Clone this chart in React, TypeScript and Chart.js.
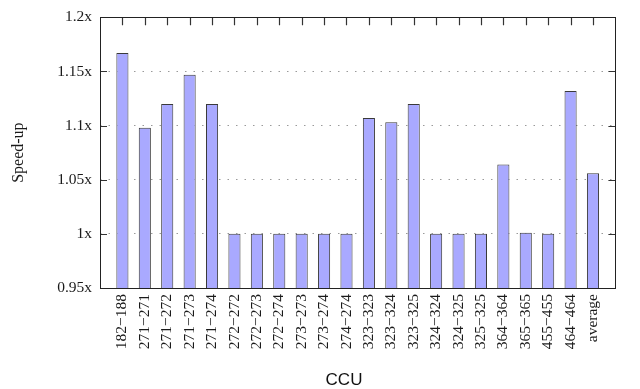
import React, { useEffect, useRef } from "react";
import { Chart, registerables } from "chart.js";

Chart.register(...registerables);

const categories = [
  "182−188", "271−271", "271−272", "271−273", "271−274", "272−272", "272−273",
  "272−274", "273−273", "273−274", "274−274", "323−323", "323−324", "323−325",
  "324−324", "324−325", "325−325", "364−364", "365−365", "455−455", "464−464", "average",
];
const speedups = [
  1.167, 1.098, 1.12, 1.147, 1.12, 1.0, 1.0,
  1.0, 1.0, 1.0, 1.0, 1.107, 1.103, 1.12,
  1.0, 1.0, 1.0, 1.064, 1.001, 1.0, 1.132, 1.056,
];
const yTicks = [0.95, 1.0, 1.05, 1.1, 1.15, 1.2];
const xTitle = "CCU";
const yTitle = "Speed-up";

const SERIF = '"Liberation Serif", "Times New Roman", serif';
const SANS = '"Liberation Sans", Arial, sans-serif';

const framePlugin = {
  id: "gnuplotFrame",
  afterDatasetsDraw(chart: any) {
    const { ctx, chartArea } = chart;
    const { left, right, top, bottom } = chartArea;
    const x = chart.scales.x;
    const y = chart.scales.y;
    ctx.save();
    ctx.setLineDash([]);
    ctx.strokeStyle = "#333";
    ctx.lineWidth = 1.2;
    ctx.beginPath();
    yTicks.forEach((v) => {
      const py = Math.round(y.getPixelForValue(v)) + 0.5;
      ctx.moveTo(left, py);
      ctx.lineTo(left + 7, py);
      ctx.moveTo(right, py);
      ctx.lineTo(right - 7, py);
    });
    categories.forEach((_, i) => {
      const px = Math.round(x.getPixelForValue(i + 1)) + 0.5;
      ctx.moveTo(px, top);
      ctx.lineTo(px, top + 8);
    });
    ctx.stroke();
    ctx.lineWidth = 1;
    ctx.strokeStyle = "#222";
    ctx.strokeRect(Math.round(left) + 0.5, Math.round(top) + 0.5, Math.round(right - left), Math.round(bottom - top));
    ctx.fillStyle = "#111";
    ctx.font = `17px ${SANS}`;
    ctx.textAlign = "center";
    ctx.textBaseline = "alphabetic";
    ctx.fillText(xTitle, chart.width / 2 + 24, chart.height - 4);
    ctx.restore();
  },
};

export default function App() {
  const ref = useRef<HTMLCanvasElement | null>(null);
  useEffect(() => {
    if (!ref.current) return;
    const labels = ["", ...categories, ""];
    const data = [null, ...speedups, null];
    const chart = new Chart(ref.current, {
      type: "bar",
      data: {
        labels,
        datasets: [
          {
            data: data as any,
            backgroundColor: "#a9a9ff",
            borderColor: "#3a3a3a",
            borderWidth: 1,
            borderSkipped: "start",
            categoryPercentage: 1,
            barPercentage: 0.54,
          },
        ],
      },
      options: {
        responsive: false,
        animation: false,
        layout: { padding: { left: 0, top: 13, right: 9, bottom: 0 } },
        plugins: { legend: { display: false }, tooltip: { enabled: false } },
        scales: {
          x: {
            type: "category",
            offset: false,
            grid: { display: false, drawTicks: false },
            border: { display: false },
            ticks: {
              autoSkip: false,
              maxRotation: 90,
              minRotation: 90,
              padding: 6,
              color: "#1a1a1a",
              font: { family: SERIF, size: 15.5 },
            },
            afterFit: (s: any) => {
              s.height = 101;
            },
          },
          y: {
            min: 0.95,
            max: 1.2,
            afterBuildTicks: (s: any) => {
              s.ticks = yTicks.map((v) => ({ value: v }));
            },
            grid: { color: "#9a9a9a", lineWidth: 1, drawTicks: false },
            border: { display: false, dash: [1.5, 7] },
            ticks: {
              padding: 8,
              color: "#1a1a1a",
              font: { family: SERIF, size: 15.5 },
              callback: (v: any) => `${Number(Number(v).toFixed(2))}x`,
            },
            title: {
              display: true,
              text: yTitle,
              color: "#1a1a1a",
              font: { family: SERIF, size: 16 },
              padding: { top: 9, bottom: 0 },
            },
            afterFit: (s: any) => {
              s.width = 100;
            },
          },
        },
      },
      plugins: [framePlugin],
    });
    return () => chart.destroy();
  }, []);
  return (
    <div style={{ position: "absolute", left: 0, top: 0, width: 640, height: 389, background: "#fff" }}>
      <canvas ref={ref} width={640} height={389} style={{ display: "block" }} />
    </div>
  );
}
